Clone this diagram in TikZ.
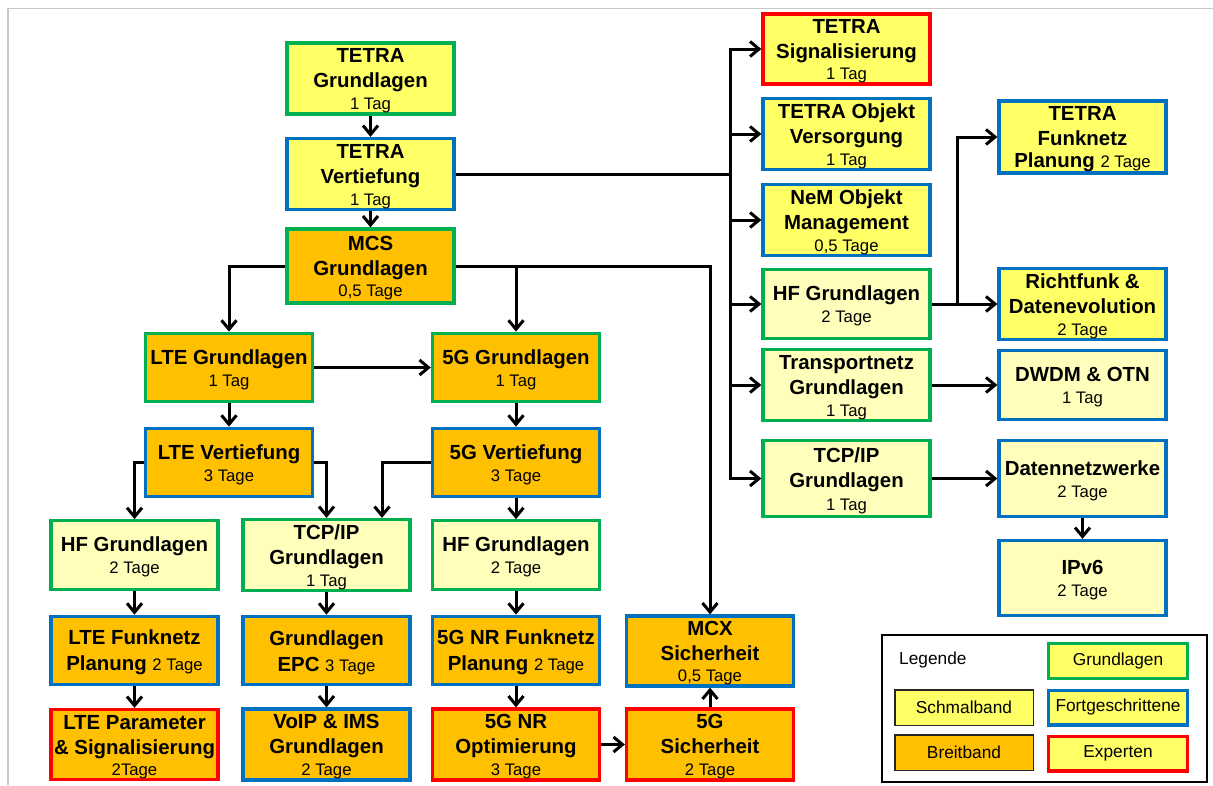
\documentclass[tikz,border=0pt]{standalone}
\usepackage{fontspec}
\setmainfont{Liberation Sans}
\usetikzlibrary{arrows.meta}
\definecolor{cgreen}{HTML}{00B050}
\definecolor{cblue}{HTML}{0070C0}
\definecolor{cred}{HTML}{FF0000}
\definecolor{cyel}{HTML}{FFFF66}
\definecolor{clight}{HTML}{FFFFBB}
\definecolor{corange}{HTML}{FFC000}
\definecolor{cframe}{HTML}{C8C8C8}
\newcommand\tfont{\fontsize{20.4}{25}\selectfont\bfseries}
\newcommand\subf{\fontsize{16.7}{20}\selectfont\mdseries}
\newcommand\lfont{\fontsize{17.3}{20}\selectfont}
\newcommand\fl{\rule{0pt}{18.5pt}}
\begin{document}
\begin{tikzpicture}[x=1pt,y=-1pt,
  box/.style={draw, line width=3.3pt, minimum width=167pt, minimum height=68.5pt, inner sep=1pt, align=center, font=\tfont, text=black},
  gr/.style={box, draw=cgreen},
  fo/.style={box, draw=cblue},
  ex/.style={box, draw=cred},
  sb/.style={fill=cyel},
  bb/.style={fill=corange},
  lt/.style={fill=clight},
  ln/.style={line width=3pt},
  arr/.style={line width=3pt, -{Straight Barb[length=9pt,width=15pt]}},
  legb/.style={line width=3.3pt, minimum width=138.7pt, minimum height=34.7pt, inner sep=0pt, font=\lfont, fill=cyel},
  legc/.style={draw=black!85, line width=1.5pt, minimum width=138.5pt, minimum height=35.5pt, inner sep=0pt, font=\lfont}
]
\useasboundingbox (0,0) rectangle (1213,785);
\draw[cframe, line width=1.5pt] (8,785) -- (8,8.5) -- (1213,8.5);

% left / middle part
\node[gr,sb] (tg) at (370.5,78.5) {\fl TETRA\\Grundlagen\\[-3pt]{\subf 1 Tag}};
\node[fo,sb] (tv) at (370.5,174) {\fl TETRA\\Vertiefung\\[-3pt]{\subf 1 Tag}};
\node[gr,bb,minimum height=74pt] (mcs) at (370.5,266) {\fl MCS\\Grundlagen\\[-4pt]{\subf 0,5 Tage}};
\node[gr,bb] (lg) at (229,367.5) {\fl LTE Grundlagen\\[-3pt]{\subf 1 Tag}};
\node[fo,bb] (lv) at (229,462.5) {\fl LTE Vertiefung\\[-3pt]{\subf 3 Tage}};
\node[gr,bb] (g5) at (516,367.5) {\fl 5G Grundlagen\\[-3pt]{\subf 1 Tag}};
\node[fo,bb] (gv) at (516,462.5) {\fl 5G Vertiefung\\[-3pt]{\subf 3 Tage}};
\node[gr,lt] (hfl) at (134.5,555) {\fl HF Grundlagen\\[-3pt]{\subf 2 Tage}};
\node[gr,lt] (tcpl) at (326.5,555) {\fl TCP/IP\\Grundlagen\\[-3pt]{\subf 1 Tag}};
\node[gr,lt] (hfm) at (516,555) {\fl HF Grundlagen\\[-3pt]{\subf 2 Tage}};
\node[fo,bb] (lfp) at (134.5,650.5) {\fl LTE Funknetz\\[1pt]Planung {\subf 2 Tage}};
\node[fo,bb] (epc) at (326.5,650.5) {\fl Grundlagen\\[1pt]EPC {\subf 3 Tage}};
\node[fo,bb] (nrf) at (516,650.5) {\fl 5G NR Funknetz\\[1pt]Planung {\subf 2 Tage}};
\node[fo,bb] (mcx) at (710,651) {\fl MCX\\Sicherheit\\[-4pt]{\subf 0,5 Tage}};
\node[ex,bb] (lpar) at (134.5,744.5) {\fl LTE Parameter\\\& Signalisierung\\[-4pt]{\subf 2Tage}};
\node[fo,bb] (voip) at (326.5,744.5) {\fl VoIP \& IMS\\Grundlagen\\[-3pt]{\subf 2 Tage}};
\node[ex,bb] (nro) at (516,744.5) {\fl 5G NR\\Optimierung\\[-3pt]{\subf 3 Tage}};
\node[ex,bb] (gs) at (710,744.5) {\fl 5G\\Sicherheit\\[-3pt]{\subf 2 Tage}};

% right part
\node[ex,sb] (ts) at (846.5,49) {\fl TETRA\\Signalisierung\\[-4pt]{\subf 1 Tag}};
\node[fo,sb] (to) at (846.5,134) {\fl TETRA Objekt\\Versorgung\\[-3pt]{\subf 1 Tag}};
\node[fo,sb] (nem) at (846.5,220) {\fl NeM Objekt\\Management\\[-3pt]{\subf 0,5 Tage}};
\node[gr,lt] (hfr) at (846.5,304) {\fl HF Grundlagen\\[-3pt]{\subf 2 Tage}};
\node[gr,lt] (tn) at (846.5,385) {\fl Transportnetz\\Grundlagen\\[-3pt]{\subf 1 Tag}};
\node[gr,lt,minimum height=75.5pt] (tcpr) at (846.5,478.5) {\fl TCP/IP\\Grundlagen\\[-2pt]{\subf 1 Tag}};
\node[fo,sb] (tf) at (1082.5,137) {\fl TETRA\\Funknetz\\[-3pt]Planung {\subf 2 Tage}};
\node[fo,sb] (rf) at (1082.5,304) {\fl Richtfunk \&\\Datenevolution\\[-3pt]{\subf 2 Tage}};
\node[fo,lt] (dw) at (1082.5,385) {\fl DWDM \& OTN\\[-3pt]{\subf 1 Tag}};
\node[fo,lt,minimum height=75.5pt] (dn) at (1082.5,478.5) {\fl Datennetzwerke\\[-3pt]{\subf 2 Tage}};
\node[fo,lt,minimum height=75pt] (ip) at (1082.5,578) {\fl IPv6\\[-3pt]{\subf 2 Tage}};

% legend
\node[draw=black, line width=2pt, minimum width=325pt, minimum height=147pt, inner sep=0pt] (leg) at (1044,708.5) {};
\node[anchor=base west, font=\lfont, inner sep=0pt] (legt) at (899,664) {Legende};
\node[legb, draw=cgreen] (lgr) at (1118,661) {Grundlagen};
\node[legb, draw=cblue] (lfo) at (1118,707.5) {Fortgeschrittene};
\node[legb, draw=cred] (lex) at (1118,753.5) {Experten};
\node[legc, fill=cyel] (lsb) at (964,707.5) {Schmalband};
\node[legc, fill=corange] (lbb) at (964,752.5) {Breitband};

% connectors
\draw[arr] (tg) -- (tv);
\draw[arr] (tv) -- (mcs);
\coordinate (bus) at (730,174);
\draw[ln] (tv.east) -- (bus);
\foreach \t in {ts,to,nem,hfr,tn,tcpr} \draw[arr] (bus) |- (\t.west);
\draw[arr] (mcs.west) -| (lg.north);
\draw[arr] (mcs.east) -| (g5.north);
\draw[arr] (mcs.east) -| (mcx.north);
\draw[arr] (lg) -- (g5);
\draw[arr] (lg) -- (lv);
\draw[arr] (g5) -- (gv);
\draw[arr] (lv.west) -| (hfl.north);
\draw[arr] (lv.east) -| (tcpl.north);
\draw[arr] (gv.west) -| ([xshift=55.5pt]tcpl.north);
\draw[arr] (gv) -- (hfm);
\draw[arr] (hfm) -- (nrf);
\draw[arr] (nrf) -- (nro);
\draw[arr] (hfl) -- (lfp);
\draw[arr] (lfp) -- (lpar);
\draw[arr] (tcpl) -- (epc);
\draw[arr] (epc) -- (voip);
\draw[arr] (nro) -- (gs);
\draw[arr] (gs) -- (mcx);
\coordinate (hb) at (957,304);
\draw[ln] (hfr.east) -- (hb);
\draw[arr] (hb) |- (tf.west);
\draw[arr] (hb) -- (rf.west);
\draw[arr] (tn) -- (dw);
\draw[arr] (tcpr) -- (dn);
\draw[arr] (dn) -- (ip);
\end{tikzpicture}
\end{document}
